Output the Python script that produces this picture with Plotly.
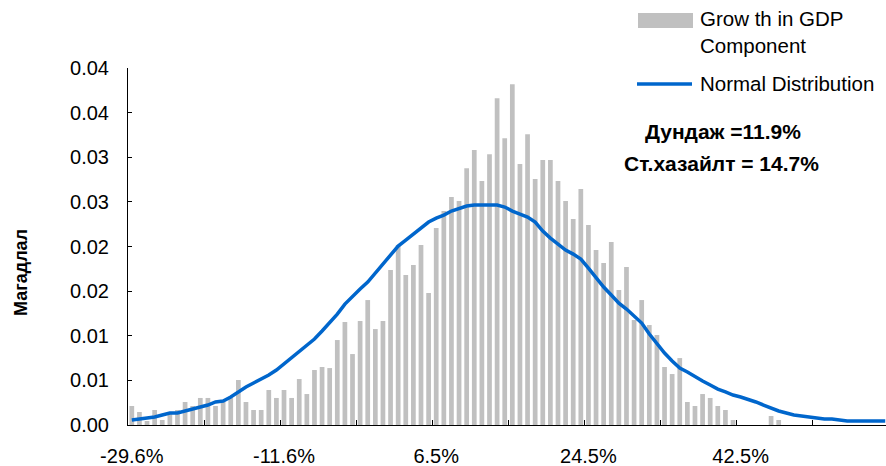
import plotly.graph_objects as go

# ---------------- data ----------------
bins = list(range(100))  # histogram bin index (category axis)
tick_positions = [0, 20, 40, 60, 80]
tick_labels = ["-29.6%", "-11.6%", "6.5%", "24.5%", "42.5%"]

growth_freq = [
    0.00213, 0.00146, 0.00045, 0.00168, 0.00056, 0.00146, 0.00168, 0.00258, 0.00213, 0.00303,
    0.00303, 0.00213, 0.00258, 0.00303, 0.00504, 0.00258, 0.00168, 0.00168, 0.00392, 0.00303,
    0.00392, 0.00303, 0.00515, 0.00347, 0.00616, 0.00650, 0.00638, 0.00952, 0.01154, 0.00795,
    0.01165, 0.01400, 0.01075, 0.01165, 0.01736, 0.02016, 0.01680, 0.01792, 0.02016, 0.01478,
    0.02206, 0.02397, 0.02554, 0.02509, 0.02878, 0.03080, 0.02733, 0.03035, 0.03662, 0.03214,
    0.03819, 0.02923, 0.03259, 0.02755, 0.02968, 0.02968, 0.02733, 0.02509, 0.02307, 0.02643,
    0.02240, 0.01960, 0.01814, 0.02050, 0.01512, 0.01770, 0.01176, 0.01400, 0.01120, 0.01008,
    0.00650, 0.00571, 0.00750, 0.00258, 0.00213, 0.00347, 0.00303, 0.00213, 0.00168, 0.00056,
    0.0, 0.0, 0.0, 0.0, 0.00101, 0.00056, 0.0, 0.0, 0.0, 0.0,
    0.0, 0.0, 0.0, 0.0, 0.0, 0.0, 0.0, 0.0, 0.0, 0.0,
]

normal_dist = [
    0.00056, 0.00067, 0.00078, 0.00090, 0.00112, 0.00134, 0.00134, 0.00157, 0.00179, 0.00202,
    0.00224, 0.00258, 0.00269, 0.00314, 0.00370, 0.00426, 0.00470, 0.00515, 0.00560, 0.00616,
    0.00683, 0.00750, 0.00818, 0.00885, 0.00963, 0.01053, 0.01142, 0.01243, 0.01355, 0.01445,
    0.01523, 0.01602, 0.01702, 0.01803, 0.01915, 0.02005, 0.02072, 0.02139, 0.02206, 0.02274,
    0.02318, 0.02352, 0.02397, 0.02430, 0.02453, 0.02464, 0.02464, 0.02464, 0.02464, 0.02442,
    0.02397, 0.02363, 0.02330, 0.02274, 0.02173, 0.02094, 0.02027, 0.01960, 0.01915, 0.01859,
    0.01758, 0.01646, 0.01546, 0.01456, 0.01366, 0.01299, 0.01221, 0.01142, 0.01019, 0.00907,
    0.00806, 0.00717, 0.00638, 0.00594, 0.00538, 0.00493, 0.00448, 0.00403, 0.00370, 0.00336,
    0.00314, 0.00291, 0.00258, 0.00224, 0.00190, 0.00157, 0.00134, 0.00112, 0.00101, 0.00090,
    0.00078, 0.00067, 0.00067, 0.00056, 0.00045, 0.00045, 0.00045, 0.00045, 0.00045, 0.00045,
]

y_tick_vals = [0.0, 0.005, 0.01, 0.015, 0.02, 0.025, 0.03, 0.035, 0.04]
y_tick_text = ["0.00", "0.01", "0.01", "0.02", "0.02", "0.03", "0.03", "0.04", "0.04"]

bar_name = "Grow th in GDP<br>Component"
line_name = "Normal Distribution"
mean_text = "Дундаж =11.9%"
sd_text = "Ст.хазайлт = 14.7%"
y_title = "Магадлал"

# ---------------- style ----------------
FONT = "Liberation Sans, Arial, sans-serif"
BAR_COLOR = "#C0C0C0"
LINE_COLOR = "#0066CC"

W, H = 886, 466
L, R, T, B = 128, 0, 68, 41
PW = W - L - R
PH = H - T - B


def px_x(x):
    return (x - L) / PW


def px_y(y):
    return (H - B - y) / PH


fig = go.Figure()
fig.add_trace(go.Bar(x=bins, y=growth_freq, marker=dict(color=BAR_COLOR, line=dict(width=0)),
                     name=bar_name, showlegend=False))
fig.add_trace(go.Scatter(x=bins, y=normal_dist, mode="lines", line=dict(color=LINE_COLOR, width=3.5),
                         name=line_name, showlegend=False))

fig.update_layout(
    width=W, height=H,
    margin=dict(l=L, r=R, t=T, b=B, pad=0),
    paper_bgcolor="white", plot_bgcolor="white",
    bargap=0.38,
    font=dict(family=FONT, size=20, color="black"),
    showlegend=False,
)

fig.update_xaxes(
    range=[-0.5, 99.1],
    tickmode="array", tickvals=tick_positions, ticktext=tick_labels,
    ticks="", showgrid=False, zeroline=False,
    showline=True, linecolor="black", linewidth=1,
    tickfont=dict(family=FONT, size=20, color="black"),
    ticklabelstandoff=13,
    automargin=False,
    minor=dict(tickmode="array", tickvals=[9.5 + 10 * k for k in range(10)],
               ticks="inside", ticklen=5, tickcolor="black", tickwidth=1, showgrid=False),
)
fig.update_yaxes(
    range=[0, 0.04],
    tickmode="array", tickvals=y_tick_vals, ticktext=y_tick_text,
    ticks="inside", ticklen=4, tickcolor="black", tickwidth=1,
    showgrid=False, zeroline=False,
    showline=True, linecolor="black", linewidth=1,
    tickfont=dict(family=FONT, size=20, color="black"),
    ticklabelstandoff=14,
    automargin=False,
)

# legend drawn manually (Excel style)
shapes = [
    dict(type="rect", xref="paper", yref="paper",
         x0=px_x(638), x1=px_x(693), y0=px_y(28), y1=px_y(13),
         fillcolor=BAR_COLOR, line=dict(width=0)),
    dict(type="line", xref="paper", yref="paper",
         x0=px_x(637), x1=px_x(692), y0=px_y(84), y1=px_y(84),
         line=dict(color=LINE_COLOR, width=3.5)),
]
annotations = [
    dict(text=bar_name, xref="paper", yref="paper", x=px_x(698), y=px_y(32),
         xanchor="left", yanchor="middle", align="left", showarrow=False,
         font=dict(family=FONT, size=20.5, color="black")),
    dict(text=line_name, xref="paper", yref="paper", x=px_x(698), y=px_y(84),
         xanchor="left", yanchor="middle", align="left", showarrow=False,
         font=dict(family=FONT, size=20.5, color="black")),
    dict(text="<b>" + mean_text + "</b>", xref="paper", yref="paper", x=px_x(723), y=px_y(131),
         xanchor="center", yanchor="middle", showarrow=False,
         font=dict(family=FONT, size=21, color="black")),
    dict(text="<b>" + sd_text + "</b>", xref="paper", yref="paper", x=px_x(721), y=px_y(163),
         xanchor="center", yanchor="middle", showarrow=False,
         font=dict(family=FONT, size=21, color="black")),
    dict(text="<b>" + y_title + "</b>", xref="paper", yref="paper", x=px_x(21), y=px_y(273),
         xanchor="center", yanchor="middle", textangle=-90, showarrow=False,
         font=dict(family=FONT, size=18, color="black")),
]
fig.update_layout(shapes=shapes, annotations=annotations)

fig.write_html("out.html",
               config={"displayModeBar": False},
               post_script="document.body.style.margin='0';document.body.style.padding='0';")
